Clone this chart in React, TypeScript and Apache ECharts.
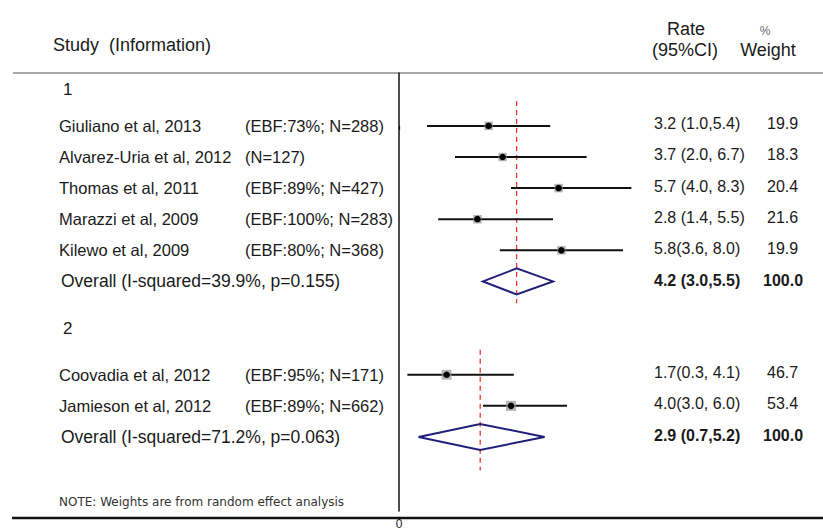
import React, { useEffect, useRef } from "react";
import * as echarts from "echarts";

// ---------- data ----------
const groups = [1, 2];
const studyNames = [
  "Giuliano et al, 2013",
  "Alvarez-Uria et al, 2012",
  "Thomas et al, 2011",
  "Marazzi et al, 2009",
  "Kilewo et al, 2009",
  "Coovadia et al, 2012",
  "Jamieson et al, 2012",
];
const studyInfo = [
  "(EBF:73%; N=288)",
  "(N=127)",
  "(EBF:89%; N=427)",
  "(EBF:100%; N=283)",
  "(EBF:80%; N=368)",
  "(EBF:95%; N=171)",
  "(EBF:89%; N=662)",
];
const studyGroup = [1, 1, 1, 1, 1, 2, 2];
const rate = [3.2, 3.7, 5.7, 2.8, 5.8, 1.7, 4.0];
const lower = [1.0, 2.0, 4.0, 1.4, 3.6, 0.3, 3.0];
const upper = [5.4, 6.7, 8.3, 5.5, 8.0, 4.1, 6.0];
const weight = [19.9, 18.3, 20.4, 21.6, 19.9, 46.7, 53.4];
const rateText = [
  "3.2 (1.0,5.4)",
  "3.7 (2.0, 6.7)",
  "5.7 (4.0, 8.3)",
  "2.8 (1.4, 5.5)",
  "5.8(3.6, 8.0)",
  "1.7(0.3, 4.1)",
  "4.0(3.0, 6.0)",
];

const overallLabels = [
  "Overall (I-squared=39.9%, p=0.155)",
  "Overall (I-squared=71.2%, p=0.063)",
];
const overallRate = [4.2, 2.9];
const overallLower = [3.0, 0.7];
const overallUpper = [5.5, 5.2];
const overallWeight = [100.0, 100.0];
const overallText = ["4.2 (3.0,5.5)", "2.9 (0.7,5.2)"];

const xTicks = [0];
const noteText = "NOTE: Weights are from random effect analysis";

// ---------- layout ----------
const W = 823;
const H = 530;
const FONT = '"Liberation Sans", Arial, sans-serif';
const TXT = "#1a1a1a";
const GROUP_GAP = 3;
const groupLabelOffset = [-1.17, -1.48];
const dashTopOffset = -0.8;
const dashBottomOffset = [0.7, 1.08];

export default function App() {
  const ref = useRef<HTMLDivElement>(null);

  useEffect(() => {
    const chart = echarts.init(ref.current!, null, { renderer: "svg" });

    // row layout
    const rows: number[] = [];
    const overallRows: number[] = [];
    const groupFirst: number[] = [];
    let r = 0;
    groups.forEach((g) => {
      groupFirst.push(r);
      studyGroup.forEach((sg, i) => {
        if (sg === g) {
          rows[i] = r;
          r++;
        }
      });
      overallRows.push(r);
      r += GROUP_GAP;
    });

    const studyData = rate.map((v, i) => [rows[i], v, lower[i], upper[i], weight[i]]);
    const overallData = overallRate.map((v, i) => [
      overallRows[i],
      v,
      overallLower[i],
      overallUpper[i],
      overallWeight[i],
      groupFirst[i],
    ]);

    const txt = (
      text: string,
      x: number,
      y: number,
      size: number,
      opts: any = {}
    ) => ({
      type: "text",
      x,
      y,
      silent: true,
      style: {
        text,
        fill: opts.fill || TXT,
        font: `${opts.weight || "normal"} ${size}px ${opts.family || FONT}`,
        align: opts.align || "left",
        verticalAlign: "middle",
      },
    });

    const option: any = {
      animation: false,
      backgroundColor: "#fff",
      grid: { left: 399, right: 4, top: 73, bottom: 12, containLabel: false },
      xAxis: {
        type: "value",
        min: 0,
        max: 15,
        axisLine: { show: false },
        splitLine: { show: false },
        axisTick: {
          show: true,
          customValues: xTicks,
          length: 4,
          lineStyle: { color: "#111", width: 1.2 },
        },
        axisLabel: {
          show: true,
          customValues: xTicks,
          color: TXT,
          fontSize: 12,
          fontFamily: FONT,
          margin: 7,
        },
      },
      yAxis: {
        type: "value",
        inverse: true,
        min: -1.7,
        max: 12.38,
        axisLine: { show: true, onZero: false, lineStyle: { color: "#111", width: 1.5 } },
        axisTick: { show: false },
        axisLabel: { show: false },
        splitLine: { show: false },
      },
      graphic: [
        {
          type: "line",
          silent: true,
          shape: { x1: 13, y1: 73, x2: 823, y2: 73 },
          style: { stroke: "#8a8a8a", lineWidth: 1.5 },
        },
        {
          type: "line",
          silent: true,
          shape: { x1: 12, y1: 518, x2: 823, y2: 518 },
          style: { stroke: "#111", lineWidth: 2.5 },
        },
        txt("Study  (Information)", 53, 45, 18),
        txt("Rate", 686, 29, 18, { align: "center" }),
        txt("(95%CI)", 685, 50, 18, { align: "center" }),
        txt("%", 765, 31, 12, { align: "center", fill: "#666" }),
        txt("Weight", 768, 50, 18, { align: "center" }),
        txt(noteText, 59, 502, 12, { family: '"DejaVu Sans", Verdana, sans-serif', fill: "#333" }),
      ],
      series: [
        {
          type: "custom",
          name: "overall",
          clip: false,
          z: 1,
          data: overallData,
          encode: { x: [1, 2, 3], y: 0 },
          renderItem: (params: any, api: any) => {
            const i = params.dataIndex;
            const row = api.value(0);
            const est = api.value(1);
            const lo = api.value(2);
            const hi = api.value(3);
            const first = api.value(5);
            const pLo = api.coord([lo, row]);
            const pHi = api.coord([hi, row]);
            const pE = api.coord([est, row]);
            const dTop = api.coord([est, first + dashTopOffset]);
            const dBot = api.coord([est, row + dashBottomOffset[i]]);
            const gLab = api.coord([0, first + groupLabelOffset[i]]);
            const hh = 13;
            return {
              type: "group",
              children: [
                {
                  type: "line",
                  shape: { x1: dTop[0], y1: dTop[1], x2: dBot[0], y2: dBot[1] },
                  style: { stroke: "#e8382f", lineWidth: 1.3, lineDash: [5, 4] },
                },
                {
                  type: "polygon",
                  shape: {
                    points: [
                      [pLo[0], pE[1]],
                      [pE[0], pE[1] - hh],
                      [pHi[0], pE[1]],
                      [pE[0], pE[1] + hh],
                    ],
                  },
                  style: { fill: "none", stroke: "#20207a", lineWidth: 2 },
                },
                txt(String(groups[i]), 63, gLab[1], 17),
                txt(overallLabels[i], 61, pE[1], 17.5),
                txt(overallText[i], 654, pE[1] - 1, 16, { weight: "bold" }),
                txt(api.value(4).toFixed(1), 763, pE[1] - 1, 16, { weight: "bold" }),
              ],
            };
          },
        },
        {
          type: "custom",
          name: "studies",
          clip: false,
          z: 2,
          data: studyData,
          encode: { x: [1, 2, 3], y: 0 },
          renderItem: (params: any, api: any) => {
            const i = params.dataIndex;
            const row = api.value(0);
            const est = api.value(1);
            const lo = api.value(2);
            const hi = api.value(3);
            const w = api.value(4);
            const pLo = api.coord([lo, row]);
            const pHi = api.coord([hi, row]);
            const pE = api.coord([est, row]);
            const side = 7.5 + w * 0.05;
            return {
              type: "group",
              children: [
                {
                  type: "line",
                  shape: { x1: pLo[0], y1: pLo[1], x2: pHi[0], y2: pHi[1] },
                  style: { stroke: "#111", lineWidth: 2 },
                },
                {
                  type: "rect",
                  shape: { x: pE[0] - side / 2, y: pE[1] - side / 2, width: side, height: side },
                  style: { fill: "rgba(150,150,150,0.7)" },
                },
                {
                  type: "circle",
                  shape: { cx: pE[0], cy: pE[1], r: 3.3 },
                  style: { fill: "#000" },
                },
                txt(studyNames[i], 59, pE[1], 16.5),
                txt(studyInfo[i], 245, pE[1], 16.5),
                txt(rateText[i], 654, pE[1] - 2, 16),
                txt(w.toFixed(1), 767, pE[1] - 2, 16),
              ],
            };
          },
        },
      ],
    };

    chart.setOption(option);
    return () => chart.dispose();
  }, []);

  return (
    <div
      ref={ref}
      style={{ position: "fixed", left: 0, top: 0, width: W, height: H, background: "#fff" }}
    />
  );
}
